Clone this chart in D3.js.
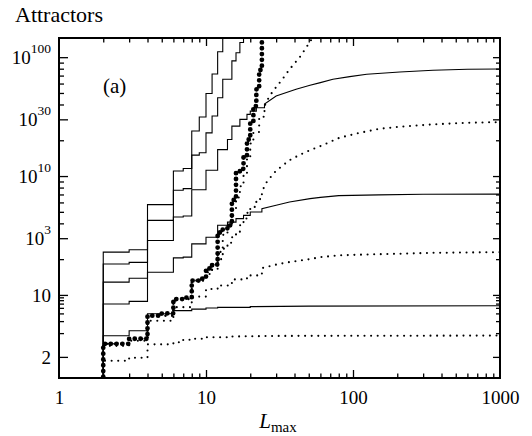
<!DOCTYPE html>
<html><head><meta charset="utf-8">
<script src="https://cdn.jsdelivr.net/npm/d3@7"></script>
<style>
body{margin:0;background:#fff}
svg{display:block}
</style>
</head><body>
<svg id="c" width="532" height="436"></svg>
<script>
// ---- data: [L_max, log10(number of attractors)] ----
// solid lines
const lineA = [[1,0.1],[2,2.29],[3,2.40],[4,5.75],[6,11.04],[7,11.57],[8,23.9],[9,31.4],[10,49.5],[11,72.3],[12,111],[13,210]];
const lineB = [[1,0.1],[2,1.82],[3,1.88],[4,4.24],[6,7.59],[7,7.84],[8,15.0],[9,15.7],[10,23.1],[11,32.0],[12,45.6],[13,65.2],[15,93.1],[16,109],[17,133],[18,210]];
const lineC = [[1,0.1],[2,1.28],[3,1.38],[4,2.87],[6,4.52],[7,4.61],[8,7.66],[10,11.2],[12,16.7],[14,20.3],[15,26.3],[17,30.0],[19,33.0],[20,35.2],[22,37.6],[25,40.4],[30,47.1],[41,53.7],[51,58.0],[60,61.1],[73,65.2],[95,68.6],[124,71.9],[208,75.1],[350,77.7],[600,79.2],[1000,79.6]];
const lineD = [[1,0.1],[2,0.839],[3,0.883],[4,1.55],[6,2.05],[7,2.08],[8,2.69],[10,3.06],[12,3.85],[14,4.10],[16,4.38],[18,4.67],[20,4.98],[24,5.32],[30,5.67],[37,6.05],[51,6.46],[60,6.62],[80,6.85],[150,6.95],[300,7.02],[1000,7.04]];
const lineE = [[1,0.1],[2,0.453],[3,0.500],[4,0.695],[6,0.737],[8,0.759],[10,0.777],[12,0.786],[20,0.797],[50,0.805],[1000,0.81]];
// thin dotted lines
const dotF = [[1,0.1],[2,0.279],[3,0.296],[4,0.384],[6,0.400],[7,0.420],[8,0.428],[10,0.440],[15,0.447],[30,0.452],[100,0.453],[1000,0.455]];
const dotG = [[1,0.1],[2,0.373],[3,0.411],[4,0.607],[6,0.789],[8,0.968],[10,1.12],[12,1.20],[15,1.35],[19,1.46],[24,1.68],[30,1.80],[36,1.88],[44,1.95],[51,2.0],[60,2.08],[80,2.15],[124,2.19],[208,2.22],[350,2.26],[1000,2.29]];
const dotH = [[1,0.1],[2,0.388],[3,0.428],[4,0.669],[6,0.922],[8,1.32],[10,1.50],[11,1.65],[12,2.0],[13,2.45],[14,2.75],[15,3.06],[16,3.4],[17,3.85],[18,4.4],[19,4.9],[20,5.5],[22,6.4],[24,7.4],[26,9.0],[30,11.1],[37,13.6],[44,15.2],[51,16.5],[60,17.85],[81,21.0],[111,23.1],[152,25.0],[208,26.0],[350,27.2],[594,28.06],[1000,28.44]];
const dotI = [[1,0.1],[2,0.388],[3,0.428],[4,0.669],[6,0.922],[8,1.32],[10,1.55],[11,1.8],[12,2.3],[13,3.2],[14,3.9],[15,5.2],[16,6.6],[17,8.2],[18,10.5],[19,14.0],[20,18.8],[21,23.5],[23,31.5],[25,38.8],[27,47],[30,56],[33,65],[37,79],[44,102],[51,135],[56,160],[60,190]];
// thick dotted line
const bigJ = [[1,0.1],[2,0.388],[3,0.428],[4,0.669],[5,0.70],[6,0.922],[7,0.949],[8,1.32],[9,1.37],[10,1.67],[11,1.80],[12,3.35],[13,3.63],[14,3.85],[15,6.3],[16,10.6],[17,11.5],[18,14.6],[19,20.3],[20,28.4],[21,38.8],[22,53.7],[23,78],[24,200]];

// ---- ticks ----
const xMajor = [1, 10, 100, 1000];
const xMinor = [2,3,4,5,6,7,8,9,20,30,40,50,60,70,80,90,200,300,400,500,600,700,800,900];
const xLabels = ["1","10","100","1000"];
const yMajorCounts = [2, 10, 1e3, 1e10, 1e30, 1e100];
const yLabels = [["2",""],["10",""],["10","3"],["10","10"],["10","30"],["10","100"]];
const yMinorCounts = [3,4,5,6,7,8,9,1e2,1e4,1e5,1e6,1e7,1e8,1e9,1e20,1e40,1e50,1e60,1e70,1e80,1e90];

const FONT = '"Liberation Serif","DejaVu Serif","Noto Serif","Times New Roman",serif';
const L = 59, R = 500, T = 38, B = 378;
const x = d3.scaleLog().domain([1, 1000]).range([L, R]);
const y = d3.scaleLog().domain([0.2, 145]).range([B, T]);   // applied to log10(count)
const lg = c => Math.log10(c);

const svg = d3.select('#c').attr('font-family', FONT);
svg.append('defs').append('clipPath').attr('id','clip')
  .append('rect').attr('x',L).attr('y',T).attr('width',R-L).attr('height',B-T);

function stepped(d, stepMax){
  const out=[];
  d.forEach((p,i)=>{ if(i>0 && p[0]<=stepMax) out.push([p[0], d[i-1][1]]); out.push(p); });
  return out;
}
const line = d3.line().x(d=>x(d[0])).y(d=>y(d[1])).curve(d3.curveLinear);
const plot = svg.append('g').attr('clip-path','url(#clip)');

function draw(data, style){
  const p = plot.append('path').attr('d', line(stepped(data, 25)))
    .attr('fill','none').attr('stroke','#000').attr('stroke-linejoin','miter');
  if(style==='solid') p.attr('stroke-width',1.1);
  if(style==='dot') p.attr('stroke-width',2.1).attr('stroke-linecap','round').attr('stroke-dasharray','0 6.6');
  if(style==='big') p.attr('stroke-width',4.8).attr('stroke-linecap','round').attr('stroke-dasharray','0 5.8');
}
[lineA,lineB,lineC,lineD,lineE].forEach(d=>draw(d,'solid'));
[dotF,dotG,dotH,dotI].forEach(d=>draw(d,'dot'));
draw(bigJ,'big');

// ---- axes (ticks inward on all four sides) ----
function ticks(axis, vals, size, tr){
  svg.append('g').attr('transform',tr)
    .call(axis.tickValues(vals).tickSize(size).tickFormat(''))
    .call(s=>{ s.select('.domain').remove(); s.selectAll('line').attr('stroke','#000').attr('stroke-width',1.3); });
}
ticks(d3.axisBottom(x), xMajor.slice(1,3), -8, `translate(0,${B})`);
ticks(d3.axisBottom(x), xMinor, -4.5, `translate(0,${B})`);
ticks(d3.axisTop(x), xMajor.slice(1,3), -8, `translate(0,${T})`);
ticks(d3.axisTop(x), xMinor, -4.5, `translate(0,${T})`);
ticks(d3.axisLeft(y), yMajorCounts.map(lg), -9, `translate(${L},0)`);
ticks(d3.axisLeft(y), yMinorCounts.map(lg), -5, `translate(${L},0)`);
ticks(d3.axisRight(y), yMajorCounts.map(lg), -7, `translate(${R},0)`);
ticks(d3.axisRight(y), yMinorCounts.map(lg), -4, `translate(${R},0)`);

svg.append('rect').attr('x',L).attr('y',T).attr('width',R-L).attr('height',B-T)
  .attr('fill','none').attr('stroke','#000').attr('stroke-width',2);

// x tick labels
svg.append('g').selectAll('text').data(xMajor).join('text')
  .attr('font-family', FONT)
  .attr('x',d=>x(d)+0.5).attr('y',404).attr('text-anchor','middle')
  .attr('font-size',19).text((d,i)=>xLabels[i]);

// y tick labels
yMajorCounts.forEach((c,i)=>{
  const t = svg.append('text').attr('font-family', FONT).attr('x',51).attr('y',y(lg(c))+7)
    .attr('text-anchor','end').attr('font-size',19);
  t.append('tspan').text(yLabels[i][0]);
  if(yLabels[i][1]) t.append('tspan').attr('font-size',13.5).attr('dy',-11).text(yLabels[i][1]);
});

// titles
svg.append('text').attr('font-family', FONT).attr('x',15).attr('y',21.7).attr('font-size',22).text('Attractors');
svg.append('text').attr('font-family', FONT).attr('x',103).attr('y',93).attr('font-size',21).text('(a)');
const xl = svg.append('text').attr('font-family', FONT).attr('x',278).attr('y',428).attr('text-anchor','middle');
xl.append('tspan').attr('font-style','italic').attr('font-size',21).text('L');
xl.append('tspan').attr('font-size',15).attr('dy',3.5).text('max');
</script>
</body></html>
